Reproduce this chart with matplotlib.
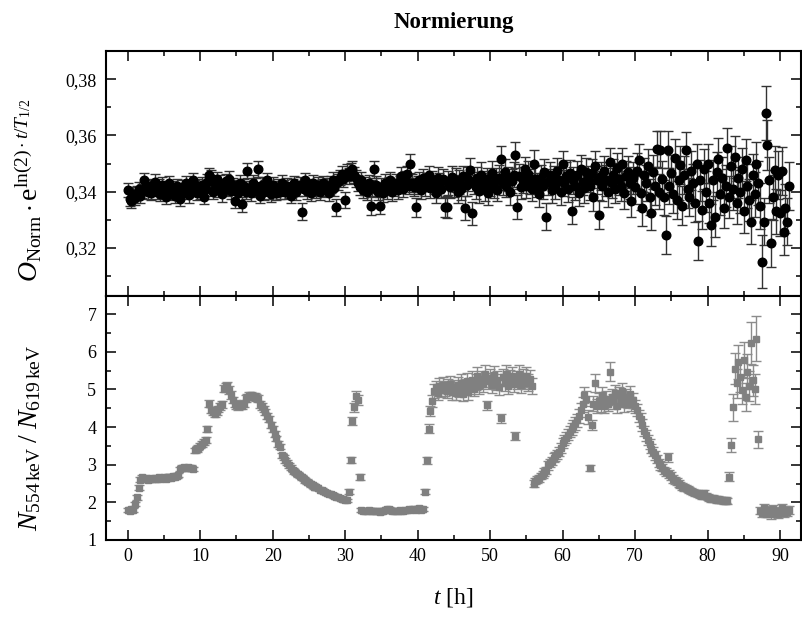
import matplotlib
matplotlib.use('Agg')
import matplotlib.pyplot as plt
from matplotlib.ticker import MultipleLocator, FuncFormatter

# measurement times [h]
t_h = [
 0, 0.25, 0.5, 0.75, 1, 1.25, 1.5, 1.75, 2, 2.25, 2.5, 2.75, 3, 3.25, 3.5, 3.75, 4, 4.25, 4.5, 4.75,
 5, 5.25, 5.5, 5.75, 6, 6.25, 6.5, 6.75, 7, 7.25, 7.5, 7.75, 8, 8.25, 8.5, 8.75, 9, 9.25, 9.5, 9.75,
 10, 10.25, 10.5, 10.75, 11, 11.25, 11.5, 11.75, 12, 12.25, 12.5, 12.75, 13, 13.25, 13.5, 13.75, 14, 14.25, 14.5, 14.75,
 15, 15.25, 15.5, 15.75, 16, 16.25, 16.5, 16.75, 17, 17.25, 17.5, 17.75, 18, 18.25, 18.5, 18.75, 19, 19.25, 19.5, 19.75,
 20, 20.25, 20.5, 20.75, 21, 21.25, 21.5, 21.75, 22, 22.25, 22.5, 22.75, 23, 23.25, 23.5, 23.75, 24, 24.25, 24.5, 24.75,
 25, 25.25, 25.5, 25.75, 26, 26.25, 26.5, 26.75, 27, 27.25, 27.5, 27.75, 28, 28.25, 28.5, 28.75, 29, 29.25, 29.5, 29.75,
 30, 30.25, 30.5, 30.75, 31, 31.25, 31.5, 31.75, 32, 32.25, 32.5, 32.75, 33, 33.25, 33.5, 33.75, 34, 34.25, 34.5, 34.75,
 35, 35.25, 35.5, 35.75, 36, 36.25, 36.5, 36.75, 37, 37.25, 37.5, 37.75, 38, 38.25, 38.5, 38.75, 39, 39.25, 39.5, 39.75,
 40, 40.25, 40.5, 40.75, 41, 41.25, 41.5, 41.75, 42, 42.25, 42.5, 42.75, 43, 43.25, 43.5, 43.75, 44, 44.25, 44.5, 44.75,
 45, 45.25, 45.5, 45.75, 46, 46.25, 46.5, 46.75, 47, 47.25, 47.5, 47.75, 48, 48.25, 48.5, 48.75, 49, 49.25, 49.5, 49.75,
 50, 50.25, 50.5, 50.75, 51, 51.25, 51.5, 51.75, 52, 52.25, 52.5, 52.75, 53, 53.25, 53.5, 53.75, 54, 54.25, 54.5, 54.75,
 55, 55.25, 55.5, 55.75, 56, 56.25, 56.5, 56.75, 57, 57.25, 57.5, 57.75, 58, 58.25, 58.5, 58.75, 59, 59.25, 59.5, 59.75,
 60, 60.25, 60.5, 60.75, 61, 61.25, 61.5, 61.75, 62, 62.25, 62.5, 62.75, 63, 63.25, 63.5, 63.75, 64, 64.25, 64.5, 64.75,
 65, 65.25, 65.5, 65.75, 66, 66.25, 66.5, 66.75, 67, 67.25, 67.5, 67.75, 68, 68.25, 68.5, 68.75, 69, 69.25, 69.5, 69.75,
 70, 70.25, 70.5, 70.75, 71, 71.25, 71.5, 71.75, 72, 72.25, 72.5, 72.75, 73, 73.25, 73.5, 73.75, 74, 74.25, 74.5, 74.75,
 75, 75.25, 75.5, 75.75, 76, 76.25, 76.5, 76.75, 77, 77.25, 77.5, 77.75, 78, 78.25, 78.5, 78.75, 79, 79.25, 79.5, 79.75,
 80, 80.25, 80.5, 80.75, 81, 81.25, 81.5, 81.75, 82, 82.25, 82.5, 82.75, 83, 83.25, 83.5, 83.75, 84, 84.25, 84.5, 84.75,
 85, 85.25, 85.5, 85.75, 86, 86.25, 86.5, 86.75, 87, 87.25, 87.5, 87.75, 88, 88.25, 88.5, 88.75, 89, 89.25, 89.5, 89.75,
 90, 90.25, 90.5, 90.75, 91, 91.25,
]

# top panel: normalised O (decay corrected)
o_norm = [
 .3405, .3372, .3368, .3390, .3378, .3395, .3410, .3385, .3402, .3440, .3415, .3398, .3420, .3395, .3410, .3435, .3400, .3418, .3390, .3425,
 .3405, .3380, .3412, .3430, .3395, .3410, .3385, .3420, .3402, .3375, .3415, .3398, .3430, .3405, .3388, .3412, .3440, .3415, .3395, .3420,
 .3400, .3425, .3380, .3410, .3435, .3459, .3450, .3398, .3420, .3445, .3405, .3430, .3390, .3415, .3438, .3410, .3445, .3402, .3425, .3367,
 .3415, .3395, .3430, .3355, .3420, .3400, .3475, .3412, .3395, .3430, .3405, .3420, .3480, .3385, .3425, .3398, .3415, .3440, .3402, .3390,
 .3425, .3410, .3395, .3418, .3400, .3432, .3412, .3398, .3420, .3405, .3385, .3415, .3430, .3398, .3412, .3425, .3328, .3410, .3440, .3402,
 .3418, .3395, .3430, .3412, .3405, .3422, .3398, .3415, .3430, .3408, .3420, .3395, .3425, .3440, .3412, .3344, .3435, .3450, .3462, .3445,
 .3370, .3468, .3455, .3472, .3481, .3460, .3448, .3430, .3415, .3440, .3405, .3420, .3398, .3430, .3349, .3412, .3480, .3425, .3400, .3349,
 .3418, .3395, .3432, .3405, .3420, .3440, .3398, .3415, .3432, .3405, .3425, .3455, .3410, .3440, .3462, .3420, .3500, .3430, .3415, .3344,
 .3425, .3440, .3405, .3450, .3418, .3435, .3460, .3412, .3440, .3425, .3395, .3450, .3430, .3410, .3445, .3345, .3346, .3430, .3415, .3452,
 .3420, .3440, .3398, .3435, .3410, .3455, .3340, .3425, .3445, .3477, .3323, .3430, .3415, .3448, .3402, .3460, .3432, .3410, .3445, .3395,
 .3425, .3465, .3418, .3440, .3405, .3450, .3515, .3430, .3470, .3420, .3445, .3400, .3438, .3460, .3530, .3344, .3455, .3415, .3440, .3480,
 .3420, .3462, .3435, .3410, .3500, .3445, .3425, .3390, .3450, .3420, .3470, .3311, .3435, .3460, .3405, .3445, .3420, .3475, .3440, .3398,
 .3497, .3430, .3455, .3410, .3468, .3332, .3440, .3420, .3460, .3395, .3480, .3435, .3412, .3470, .3445, .3420, .3465, .3380, .3492, .3440,
 .3318, .3455, .3420, .3475, .3440, .3398, .3506, .3430, .3460, .3410, .3485, .3445, .3420, .3500, .3395, .3455, .3470, .3430, .3365, .3448,
 .3415, .3475, .3512, .3395, .3340, .3460, .3430, .3490, .3380, .3325, .3470, .3420, .3551, .3400, .3550, .3445, .3380, .3245, .3550, .3420,
 .3465, .3390, .3520, .3370, .3440, .3495, .3350, .3460, .3548, .3410, .3380, .3475, .3430, .3360, .3500, .3225, .3440, .3334, .3480, .3400,
 .3500, .3360, .3281, .3440, .3311, .3470, .3515, .3390, .3450, .3340, .3420, .3554, .3380, .3490, .3410, .3524, .3360, .3450, .3400, .3480,
 .3330, .3512, .3420, .3370, .3293, .3460, .3390, .3500, .3430, .3350, .3150, .3293, .3680, .3566, .3440, .3218, .3380, .3477, .3330, .3460,
 .3324, .3474, .3257, .3340, .3293, .3420,
]

o_norm_err = [
 .0026, .0024, .0027, .0025, .0025, .0026, .0024, .0027, .0026, .0025, .0027, .0024, .0026, .0025, .0024, .0027, .0025, .0026, .0025, .0027,
 .0026, .0025, .0027, .0024, .0026, .0027, .0025, .0026, .0024, .0026, .0027, .0025, .0026, .0025, .0027, .0026, .0025, .0027, .0026, .0024,
 .0026, .0027, .0025, .0026, .0027, .0026, .0028, .0025, .0027, .0026, .0025, .0028, .0026, .0027, .0025, .0026, .0028, .0027, .0025, .0027,
 .0027, .0026, .0028, .0027, .0025, .0027, .0028, .0026, .0027, .0028, .0026, .0027, .0028, .0027, .0026, .0028, .0027, .0026, .0028, .0027,
 .0027, .0028, .0026, .0027, .0028, .0027, .0029, .0026, .0028, .0027, .0026, .0029, .0027, .0028, .0026, .0027, .0030, .0027, .0028, .0029,
 .0028, .0027, .0029, .0028, .0027, .0029, .0028, .0030, .0027, .0029, .0028, .0027, .0029, .0030, .0028, .0030, .0029, .0028, .0030, .0029,
 .0030, .0029, .0028, .0030, .0029, .0028, .0030, .0029, .0028, .0030, .0029, .0031, .0028, .0030, .0031, .0029, .0030, .0029, .0031, .0030,
 .0030, .0031, .0029, .0030, .0032, .0030, .0031, .0029, .0032, .0030, .0031, .0033, .0030, .0032, .0031, .0030, .0033, .0031, .0032, .0033,
 .0032, .0031, .0033, .0032, .0034, .0033, .0032, .0034, .0035, .0033, .0034, .0036, .0035, .0034, .0036, .0035, .0040, .0042, .0038, .0041,
 .0039, .0043, .0040, .0042, .0041, .0038, .0043, .0040, .0042, .0044, .0041, .0039, .0043, .0040, .0042, .0045, .0041, .0043, .0040, .0044,
 .0042, .0045, .0041, .0043, .0040, .0044, .0046, .0042, .0045, .0041, .0043, .0046, .0042, .0044, .0046, .0043, .0045, .0042, .0046, .0044,
 .0043, .0046, .0044, .0042, .0047, .0045, .0043, .0046, .0044, .0047, .0045, .0048, .0046, .0044, .0047, .0045, .0048, .0046, .0044, .0047,
 .0048, .0046, .0049, .0047, .0045, .0049, .0047, .0050, .0048, .0046, .0050, .0048, .0051, .0049, .0047, .0050, .0052, .0049, .0051, .0050,
 .0052, .0050, .0053, .0051, .0054, .0052, .0050, .0053, .0055, .0052, .0054, .0056, .0053, .0055, .0057, .0054, .0056, .0058, .0055, .0057,
 .0060, .0062, .0058, .0061, .0063, .0060, .0064, .0062, .0065, .0063, .0061, .0066, .0064, .0062, .0066, .0065, .0063, .0068, .0066, .0064,
 .0067, .0065, .0068, .0066, .0069, .0067, .0070, .0068, .0066, .0070, .0068, .0071, .0069, .0067, .0071, .0070, .0072, .0069, .0071, .0073,
 .0070, .0072, .0074, .0071, .0073, .0070, .0075, .0072, .0074, .0071, .0076, .0073, .0075, .0072, .0077, .0074, .0076, .0073, .0078, .0075,
 .0077, .0074, .0079, .0076, .0078, .0075, .0080, .0077, .0079, .0082, .0095, .0085, .0095, .0088, .0082, .0086, .0080, .0084, .0081, .0085,
 .0083, .0086, .0082, .0087, .0084, .0086,
]

# bottom panel: peak ratio N(554 keV) / N(619 keV)
ratio = [
 1.80, 1.78, 1.82, 1.79, 1.95, 2.13, 2.39, 2.60, 2.66, 2.62, 2.64, 2.60, 2.63, 2.65, 2.61, 2.64, 2.62, 2.66, 2.63, 2.65,
 2.67, 2.63, 2.66, 2.68, 2.65, 2.69, 2.67, 2.71, 2.72, 2.88, 2.92, 2.94, 2.91, 2.93, 2.90, 2.92, 2.89, 3.38, 3.42, 3.45,
 3.50, 3.55, 3.60, 3.65, 3.96, 4.62, 4.45, 4.40, 4.35, 4.42, 4.48, 4.55, 4.60, 5.02, 5.08, 5.10, 4.98, 4.85, 4.72, 4.62,
 4.58, 4.55, 4.60, 4.57, 4.62, 4.75, 4.80, 4.83, 4.85, 4.80, 4.82, 4.78, 4.75, 4.60, 4.55, 4.48, 4.40, 4.30, 4.22, 4.05,
 3.95, 3.82, 3.70, 3.55, 3.48, 3.25, 3.20, 3.12, 3.05, 2.98, 2.92, 2.86, 2.82, 2.78, 2.74, 2.70, 2.66, 2.62, 2.58, 2.55,
 2.51, 2.48, 2.45, 2.42, 2.40, 2.37, 2.34, 2.32, 2.29, 2.27, 2.25, 2.23, 2.21, 2.19, 2.17, 2.15, 2.13, 2.11, 2.09, 2.08,
 2.06, 2.05, 2.28, 3.12, 4.16, 4.52, 4.82, 4.71, 2.68, 1.80, 1.78, 1.76, 1.77, 1.79, 1.76, 1.78, 1.77, 1.76, 1.78, 1.75,
 1.76, 1.78, 1.80, 1.83, 1.82, 1.79, 1.77, 1.78, 1.76, 1.78, 1.79, 1.77, 1.78, 1.80, 1.79, 1.81, 1.79, 1.81, 1.83, 1.80,
 1.82, 1.84, 1.80, 1.83, 2.28, 3.12, 3.96, 4.42, 4.68, 4.95, 5.05, 4.90, 5.10, 4.98, 5.12, 5.02, 4.95, 5.08, 5.15, 4.92,
 5.05, 4.90, 5.12, 5.00, 5.18, 4.88, 5.06, 5.22, 4.92, 5.10, 5.25, 5.02, 5.20, 5.35, 5.08, 5.28, 5.15, 5.40, 4.58, 5.22,
 5.30, 5.12, 5.38, 5.20, 5.25, 5.05, 4.23, 5.32, 5.18, 5.42, 5.10, 5.28, 5.35, 5.15, 3.76, 5.25, 5.40, 5.12, 5.30, 5.22,
 5.35, 5.18, 5.28, 5.10, 2.50, 2.56, 2.60, 2.64, 2.70, 2.74, 2.80, 2.85, 2.98, 3.05, 3.10, 3.18, 3.22, 3.28, 3.35, 3.45,
 3.58, 3.65, 3.72, 3.80, 3.88, 3.95, 4.02, 4.10, 4.18, 4.30, 4.45, 4.60, 4.85, 4.75, 4.27, 2.91, 4.05, 4.62, 5.17, 4.55,
 4.70, 4.60, 4.85, 4.55, 4.75, 4.62, 5.47, 4.80, 4.68, 4.90, 4.55, 4.85, 4.72, 4.95, 4.60, 4.80, 4.70, 4.88, 4.62, 4.71,
 4.55, 4.45, 4.30, 4.20, 4.05, 3.90, 3.78, 3.65, 3.55, 3.42, 3.35, 3.25, 3.15, 3.05, 2.98, 2.92, 2.85, 2.80, 3.20, 2.75,
 2.70, 2.62, 2.58, 2.55, 2.50, 2.46, 2.42, 2.40, 2.38, 2.35, 2.32, 2.30, 2.28, 2.26, 2.24, 2.22, 2.20, 2.18, 2.25, 2.16,
 2.14, 2.12, 2.10, 2.11, 2.09, 2.07, 2.08, 2.06, 2.05, 2.04, 2.06, 2.03, 2.68, 3.52, 4.52, 5.55, 5.16, 5.73, 5.33, 4.98,
 5.77, 4.80, 5.47, 5.10, 6.23, 5.24, 5.02, 6.35, 3.67, 1.78, 1.72, 1.85, 1.70, 1.80, 1.75, 1.68, 1.82, 1.74, 1.78, 1.70,
 1.76, 1.84, 1.72, 1.78, 1.74, 1.79,
]

ratio_err = [
 0.05, 0.05, 0.05, 0.05, 0.05, 0.06, 0.06, 0.06, 0.06, 0.06, 0.06, 0.06, 0.06, 0.06, 0.06, 0.06, 0.06, 0.06, 0.06, 0.06,
 0.06, 0.06, 0.06, 0.06, 0.06, 0.06, 0.06, 0.06, 0.06, 0.06, 0.06, 0.06, 0.06, 0.06, 0.06, 0.06, 0.06, 0.07, 0.07, 0.07,
 0.07, 0.07, 0.08, 0.08, 0.08, 0.09, 0.09, 0.09, 0.09, 0.09, 0.09, 0.09, 0.09, 0.10, 0.10, 0.10, 0.10, 0.10, 0.09, 0.09,
 0.09, 0.09, 0.09, 0.09, 0.09, 0.09, 0.09, 0.09, 0.09, 0.09, 0.09, 0.09, 0.09, 0.09, 0.09, 0.08, 0.08, 0.08, 0.08, 0.08,
 0.08, 0.08, 0.07, 0.07, 0.07, 0.07, 0.07, 0.07, 0.07, 0.07, 0.06, 0.06, 0.06, 0.06, 0.06, 0.06, 0.06, 0.06, 0.06, 0.06,
 0.06, 0.06, 0.06, 0.06, 0.06, 0.05, 0.05, 0.05, 0.05, 0.05, 0.05, 0.05, 0.05, 0.05, 0.05, 0.05, 0.05, 0.05, 0.05, 0.05,
 0.05, 0.05, 0.07, 0.08, 0.10, 0.12, 0.13, 0.13, 0.08, 0.05, 0.05, 0.05, 0.05, 0.05, 0.05, 0.05, 0.05, 0.05, 0.05, 0.05,
 0.05, 0.05, 0.05, 0.05, 0.05, 0.05, 0.05, 0.05, 0.05, 0.05, 0.05, 0.05, 0.05, 0.05, 0.05, 0.05, 0.05, 0.05, 0.05, 0.05,
 0.05, 0.05, 0.05, 0.05, 0.07, 0.09, 0.12, 0.14, 0.16, 0.18, 0.17, 0.18, 0.19, 0.18, 0.20, 0.19, 0.18, 0.20, 0.21, 0.19,
 0.20, 0.19, 0.21, 0.20, 0.22, 0.19, 0.21, 0.22, 0.20, 0.21, 0.23, 0.20, 0.22, 0.24, 0.21, 0.22, 0.21, 0.24, 0.12, 0.22,
 0.23, 0.21, 0.24, 0.22, 0.23, 0.21, 0.12, 0.23, 0.22, 0.24, 0.21, 0.23, 0.24, 0.22, 0.10, 0.23, 0.24, 0.21, 0.23, 0.22,
 0.24, 0.22, 0.23, 0.21, 0.08, 0.08, 0.09, 0.09, 0.09, 0.10, 0.10, 0.10, 0.11, 0.11, 0.11, 0.12, 0.12, 0.12, 0.13, 0.13,
 0.14, 0.14, 0.15, 0.15, 0.15, 0.16, 0.16, 0.17, 0.17, 0.18, 0.18, 0.19, 0.21, 0.20, 0.18, 0.08, 0.14, 0.20, 0.24, 0.19,
 0.20, 0.19, 0.22, 0.19, 0.21, 0.20, 0.25, 0.21, 0.20, 0.22, 0.19, 0.21, 0.20, 0.22, 0.19, 0.21, 0.20, 0.21, 0.19, 0.20,
 0.18, 0.17, 0.16, 0.16, 0.15, 0.14, 0.14, 0.13, 0.13, 0.12, 0.12, 0.12, 0.11, 0.11, 0.11, 0.10, 0.10, 0.10, 0.12, 0.10,
 0.10, 0.10, 0.09, 0.09, 0.09, 0.09, 0.09, 0.09, 0.09, 0.08, 0.08, 0.08, 0.08, 0.08, 0.08, 0.08, 0.08, 0.08, 0.09, 0.08,
 0.08, 0.08, 0.08, 0.08, 0.08, 0.08, 0.08, 0.08, 0.08, 0.08, 0.08, 0.08, 0.12, 0.18, 0.35, 0.42, 0.38, 0.45, 0.40, 0.36,
 0.48, 0.38, 0.46, 0.40, 0.55, 0.42, 0.40, 0.60, 0.22, 0.10, 0.10, 0.11, 0.10, 0.11, 0.10, 0.11, 0.10, 0.11, 0.10, 0.11,
 0.10, 0.11, 0.10, 0.11, 0.10, 0.11,
]

assert len(t_h) == len(o_norm) == len(o_norm_err) == len(ratio) == len(ratio_err), (
    len(t_h), len(o_norm), len(o_norm_err), len(ratio), len(ratio_err))

plt.rcParams['font.family'] = ['Liberation Serif', 'DejaVu Serif']
plt.rcParams['mathtext.fontset'] = 'custom'
plt.rcParams['mathtext.rm'] = 'Liberation Serif'
plt.rcParams['mathtext.it'] = 'Liberation Serif:italic'
plt.rcParams['mathtext.bf'] = 'Liberation Serif:bold'

fig = plt.figure(figsize=(8.02, 6.17), dpi=100)
ax1 = fig.add_axes([0.1322, 0.5203, 0.8666, 0.3970])
ax2 = fig.add_axes([0.1322, 0.1248, 0.8666, 0.3955], sharex=ax1)

ax1.errorbar(t_h, o_norm, yerr=o_norm_err, fmt='o', color='black', ms=6.2,
             ecolor='#333333', elinewidth=1.0, capsize=3.6, capthick=1.0, zorder=3)
ax2.errorbar(t_h, ratio, yerr=ratio_err, fmt='s', color='#808080', ms=5.0,
             ecolor='#8c8c8c', elinewidth=1.0, capsize=3.6, capthick=1.0, zorder=3)

ax1.set_xlim(-3, 92.9)
ax1.set_ylim(0.3028, 0.3901)
ax2.set_ylim(1.0, 7.48)

ax1.yaxis.set_major_locator(MultipleLocator(0.02))
ax1.yaxis.set_minor_locator(MultipleLocator(0.01))
ax1.yaxis.set_major_formatter(FuncFormatter(lambda v, p: f"{v:.2f}".replace('.', ',')))
ax2.yaxis.set_major_locator(MultipleLocator(1))
ax2.yaxis.set_minor_locator(MultipleLocator(0.5))
ax2.xaxis.set_major_locator(MultipleLocator(10))
ax2.xaxis.set_minor_locator(MultipleLocator(5))

for ax in (ax1, ax2):
    for s in ax.spines.values():
        s.set_linewidth(1.5)
    ax.tick_params(which='both', direction='in', top=True, right=True,
                   width=1.1, labelsize=13, pad=7)
    ax.tick_params(which='major', length=7)
    ax.tick_params(which='minor', length=3.5)
ax1.tick_params(axis='x', labelbottom=False)
ax2.tick_params(axis='x', pad=6)

ax1.set_ylabel(r'$O_{\mathrm{Norm}}\cdot\mathrm{e}^{\mathrm{ln(2)}\cdot t/T_{1/2}}$', fontsize=20)
ax2.set_ylabel(r'$N_{554\,\mathrm{keV}}\;/\;N_{619\,\mathrm{keV}}$', fontsize=20)
ax1.yaxis.set_label_coords(-0.09, 0.43)
ax2.yaxis.set_label_coords(-0.09, 0.42)

fig.text(0.5655, 0.9643, 'Normierung', ha='center', va='center', fontsize=16.5, fontweight='bold')
fig.text(0.5655, 0.031, r'$t$ [h]', ha='center', va='center', fontsize=17)

fig.savefig('out.png', dpi=100)
